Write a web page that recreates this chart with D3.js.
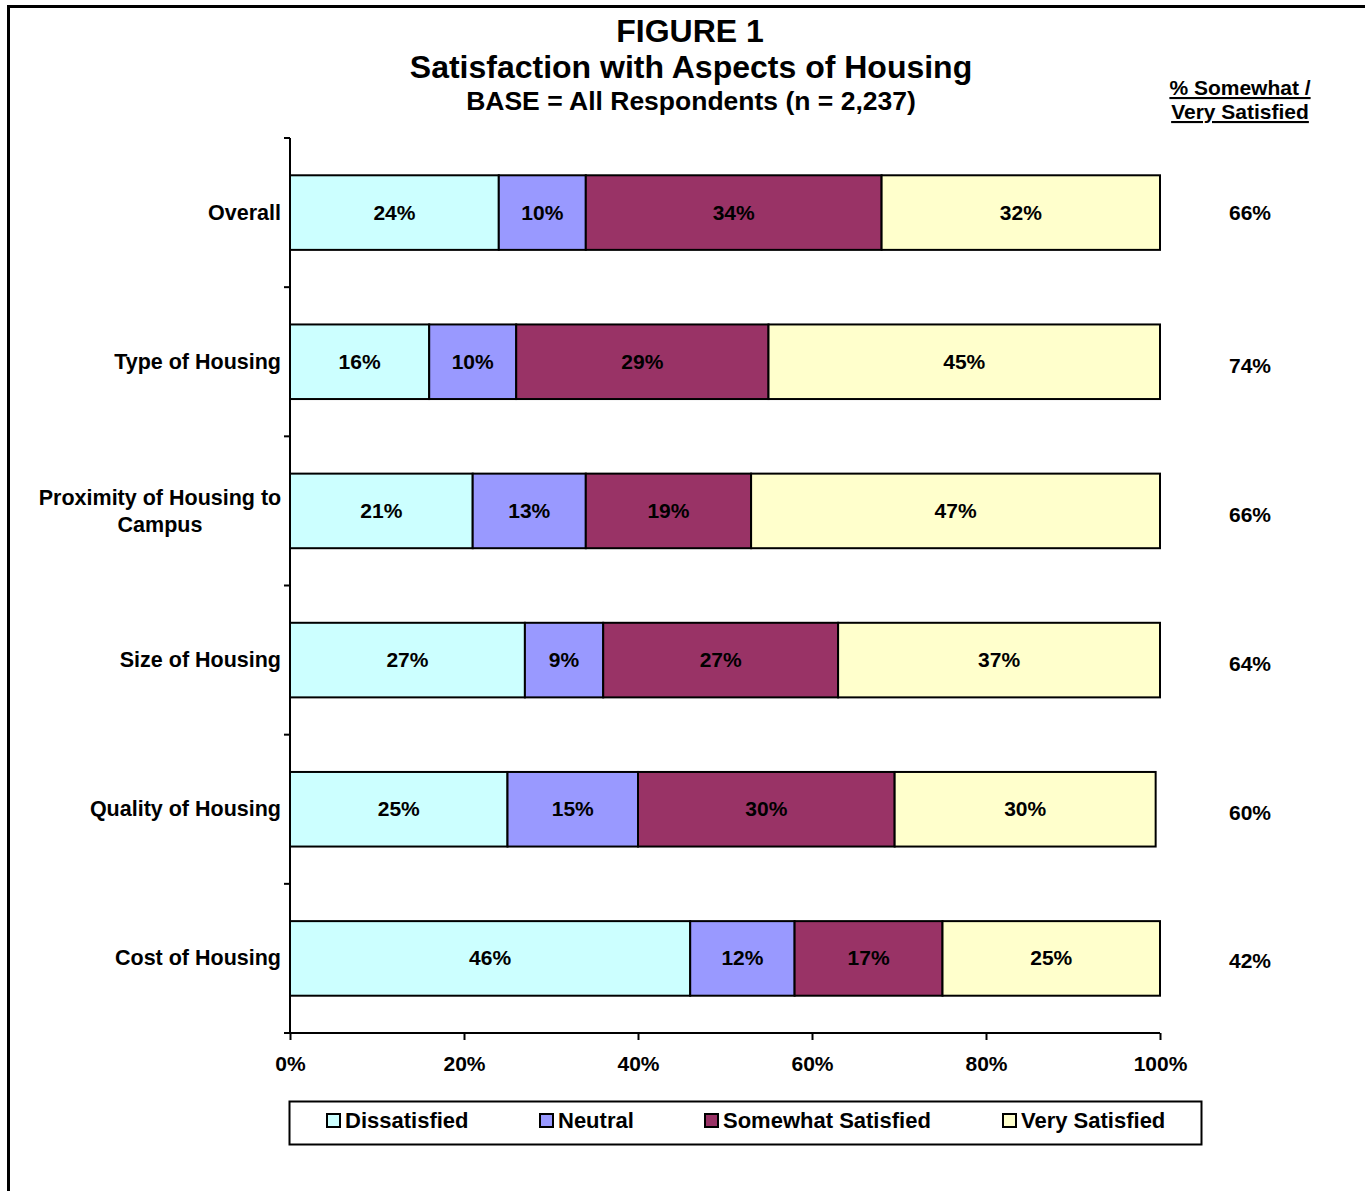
<!DOCTYPE html>
<html>
<head>
<meta charset="UTF-8">
<title>Figure 1</title>
<style>
    body { margin: 0; background: white; }
    svg text { font-family: "Liberation Sans", Arial, sans-serif; font-weight: bold; fill: black; }
</style>
</head>
<body>
<svg></svg>
<script src="https://d3js.org/d3.v7.min.js"></script>
<script>
    let width = 1365, height = 1191

    // data
    let categories = ["Overall", "Type of Housing", "Proximity of Housing to Campus",
        "Size of Housing", "Quality of Housing", "Cost of Housing"]
    let series = ["Dissatisfied", "Neutral", "Somewhat Satisfied", "Very Satisfied"]
    let dissatisfied = [24, 16, 21, 27, 25, 46]
    let neutral = [10, 10, 13, 9, 15, 12]
    let somewhat = [34, 29, 19, 27, 29.5, 17]
    let verySat = [32, 45, 47, 37, 30, 25]
    let topTwo = ["66%", "74%", "66%", "64%", "60%", "42%"]
    let xTicks = [0, 20, 40, 60, 80, 100]
    let colors = ["#CCFFFF", "#9999FF", "#993366", "#FFFFCC"]

    let rows = categories.map((c, i) => ({
        cat: c,
        "Dissatisfied": dissatisfied[i],
        "Neutral": neutral[i],
        "Somewhat Satisfied": somewhat[i],
        "Very Satisfied": verySat[i]
    }))

    let svg = d3.select("svg")
        .attr("width", width)
        .attr("height", height)

    // outer frame (runs off right/bottom)
    svg.append("rect")
        .attr("x", 8.5).attr("y", 6.5)
        .attr("width", 1400).attr("height", 1300)
        .attr("fill", "none")
        .attr("stroke", "black")
        .attr("stroke-width", 3)

    let plotLeft = 290, plotRight = 1160, plotTop = 138, plotBottom = 1033

    let x = d3.scaleLinear().domain([0, 100]).range([plotLeft, plotRight])
    let y = d3.scaleBand().domain(categories).range([plotTop, plotBottom]).paddingInner(0.5).paddingOuter(0.25)

    // titles
    svg.append("text").attr("x", 690).attr("y", 42).attr("text-anchor", "middle")
        .style("font-size", "32px").text("FIGURE 1")
    svg.append("text").attr("x", 691).attr("y", 78).attr("text-anchor", "middle")
        .style("font-size", "32px").text("Satisfaction with Aspects of Housing")
    svg.append("text").attr("x", 691).attr("y", 110).attr("text-anchor", "middle")
        .style("font-size", "26.5px").text("BASE = All Respondents (n = 2,237)")

    svg.append("text").attr("x", 1240).attr("y", 95).attr("text-anchor", "middle")
        .style("font-size", "21px").style("text-decoration", "underline").text("% Somewhat /")
    svg.append("text").attr("x", 1240).attr("y", 119).attr("text-anchor", "middle")
        .style("font-size", "21px").style("text-decoration", "underline").text("Very Satisfied")

    // stacked bars
    let stack = d3.stack().keys(series)(rows)

    let groups = svg.append("g").selectAll("g")
        .data(stack)
        .enter().append("g")
        .attr("fill", (d, i) => colors[i])

    groups.selectAll("rect")
        .data(d => d)
        .enter().append("rect")
        .attr("x", d => x(d[0]))
        .attr("y", d => y(d.data.cat))
        .attr("width", d => x(d[1]) - x(d[0]))
        .attr("height", y.bandwidth())
        .attr("stroke", "black")
        .attr("stroke-width", 2)

    groups.selectAll("text")
        .data(d => d)
        .enter().append("text")
        .attr("x", d => (x(d[0]) + x(d[1])) / 2)
        .attr("y", d => y(d.data.cat) + y.bandwidth() / 2 + 7)
        .attr("text-anchor", "middle")
        .style("font-size", "21px")
        .text(d => Math.round(d[1] - d[0]) + "%")

    // axes
    let yAxis = d3.axisLeft(y).tickSize(0).tickFormat("")
    let yg = svg.append("g").attr("transform", "translate(" + plotLeft + ",0)").call(yAxis)
    yg.select(".domain").attr("stroke", "black").attr("stroke-width", 2).attr("d", "M0," + plotTop + "V" + plotBottom)

    // boundary ticks between categories
    let bounds = d3.range(categories.length + 1).map(i => plotTop + i * y.step())
    svg.append("g").selectAll("line")
        .data(bounds)
        .enter().append("line")
        .attr("x1", plotLeft - 6).attr("x2", plotLeft)
        .attr("y1", d => d).attr("y2", d => d)
        .attr("stroke", "black").attr("stroke-width", 2)

    let xAxis = d3.axisBottom(x).tickValues(xTicks).tickSize(7).tickFormat(d => d + "%")
    let xg = svg.append("g").attr("transform", "translate(0," + plotBottom + ")").call(xAxis)
    xg.select(".domain").attr("stroke", "black").attr("stroke-width", 2).attr("d", "M" + plotLeft + ",0H" + plotRight)
    xg.selectAll(".tick line").attr("stroke", "black").attr("stroke-width", 2)
    xg.selectAll(".tick text")
        .attr("y", 23)
        .style("font-size", "21px")
        .style("font-family", "'Liberation Sans', Arial, sans-serif")
        .style("font-weight", "bold")
        .attr("fill", "black")

    // category labels
    svg.append("g").selectAll("text")
        .data(categories)
        .enter().append("text")
        .attr("text-anchor", "middle")
        .style("font-size", "21.5px")
        .each(function (d) {
            let t = d3.select(this)
            let cy = y(d) + y.bandwidth() / 2
            if (d == "Proximity of Housing to Campus") {
                t.append("tspan").attr("x", 160).attr("y", cy - 6).text("Proximity of Housing to")
                t.append("tspan").attr("x", 160).attr("y", cy + 21).text("Campus")
            } else {
                t.attr("x", 281).attr("y", cy + 7).attr("text-anchor", "end").text(d)
            }
        })

    // right-hand values
    let rightOffsets = [0, 4, 4, 4, 4, 3]
    svg.append("g").selectAll("text")
        .data(topTwo)
        .enter().append("text")
        .attr("x", 1250)
        .attr("y", (d, i) => y(categories[i]) + y.bandwidth() / 2 + 7 + rightOffsets[i])
        .attr("text-anchor", "middle")
        .style("font-size", "21px")
        .text(d => d)

    // legend
    let legend = svg.append("g")
    legend.append("rect")
        .attr("x", 289.5).attr("y", 1101.5)
        .attr("width", 912).attr("height", 43)
        .attr("fill", "white").attr("stroke", "black").attr("stroke-width", 2)

    let legendX = [327, 540, 705, 1003]
    let item = legend.selectAll("g.item")
        .data(series)
        .enter().append("g")
        .attr("class", "item")
        .attr("transform", (d, i) => "translate(" + legendX[i] + ",1114)")
    item.append("rect")
        .attr("width", 13).attr("height", 13)
        .attr("fill", (d, i) => colors[i])
        .attr("stroke", "black").attr("stroke-width", 2)
    item.append("text")
        .attr("x", 18).attr("y", 14)
        .style("font-size", "22px")
        .text(d => d)
</script>
</body>
</html>
